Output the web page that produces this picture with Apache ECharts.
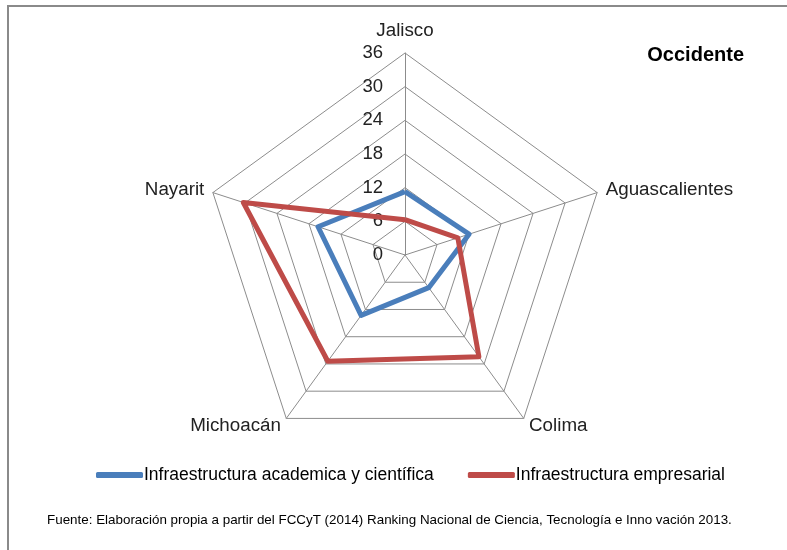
<!DOCTYPE html>
<html>
<head>
<meta charset="utf-8">
<script src="https://cdn.jsdelivr.net/npm/echarts@6/dist/echarts.min.js"></script>
<style>
  html, body { margin: 0; padding: 0; background: #fff; }
  #chart { width: 787px; height: 550px; }
</style>
</head>
<body>
<div id="chart"></div>
<script>
  // estados en el orden de Excel (sentido horario desde arriba)
  var estados = ['Jalisco', 'Aguascalientes', 'Colima', 'Michoacán', 'Nayarit'];
  var academica = [11.3, 12, 7.2, 13.3, 16.3];
  var empresarial = [6.3, 9.9, 22.4, 23.4, 30.3];
  var ticks = [0, 6, 12, 18, 24, 30, 36];
  var serieNames = ['Infraestructura academica y científica', 'Infraestructura empresarial'];
  var fuente = 'Fuente: Elaboración propia a partir del FCCyT (2014) Ranking Nacional de Ciencia, Tecnología e Inno vación 2013.';

  var maxVal = ticks[ticks.length - 1];
  var font = 'Liberation Sans';

  // echarts pinta el radar en sentido antihorario: reordenar
  function ccw(arr) {
    return [arr[0]].concat(arr.slice(1).reverse());
  }

  var option = {
    animation: false,
    title: [
      {
        text: 'Occidente',
        right: 38, top: 40,
        textStyle: {fontFamily: font, fontSize: 20, fontWeight: 'bold', color: '#000'}
      },
      {
        text: fuente,
        left: 42, top: 509,
        textStyle: {fontFamily: font, fontSize: 13.4, fontWeight: 'normal', color: '#000'}
      }
    ],
    graphic: [{
      type: 'rect',
      shape: {x: 8, y: 6, width: 820, height: 600},
      style: {fill: 'none', stroke: '#8a8a8a', lineWidth: 2},
      silent: true
    }],
    legend: {
      left: 91, top: 461,
      itemWidth: 47, itemHeight: 6,
      itemGap: 34,
      icon: 'roundRect',
      data: serieNames,
      textStyle: {fontFamily: font, fontSize: 17.5, color: '#000', padding: [0, 0, 0, -4]}
    },
    radar: {
      center: [405, 255],
      radius: 202,
      startAngle: 90,
      shape: 'polygon',
      splitNumber: ticks.length - 1,
      nameGap: 9,
      axisName: {fontFamily: font, fontSize: 18.8, color: '#222', padding: [2, 0, 4, 0]},
      indicator: ccw(estados).map(function (n) { return {name: n, min: 0, max: maxVal}; }),
      axisLine: {lineStyle: {color: '#8c8c8c', width: 1}},
      splitLine: {lineStyle: {color: '#8c8c8c', width: 1}},
      splitArea: {show: false},
      axisLabel: {show: false},
      axisTick: {show: false}
    },
    // eje auxiliar solo para las etiquetas 0..36 sobre el eje de Jalisco
    grid: {left: 405, top: 53, width: 1, height: 202, z: 0},
    xAxis: {type: 'value', show: false},
    yAxis: {
      type: 'value',
      z: 0,
      min: ticks[0], max: maxVal, interval: ticks[1] - ticks[0],
      axisLine: {show: false},
      axisTick: {show: false},
      splitLine: {show: false},
      axisLabel: {fontFamily: font, fontSize: 18.5, color: '#222', margin: 22}
    },
    series: [
      {
        type: 'radar',
        symbol: 'none',
        z: 5,
        data: [
          {
            name: serieNames[0],
            value: ccw(academica),
            lineStyle: {color: '#4A7EBB', width: 5},
            itemStyle: {color: '#4A7EBB'}
          },
          {
            name: serieNames[1],
            value: ccw(empresarial),
            lineStyle: {color: '#BE4B48', width: 5},
            itemStyle: {color: '#BE4B48'}
          }
        ]
      },
      {type: 'line', data: [], silent: true}
    ]
  };

  echarts.init(document.getElementById('chart')).setOption(option);
</script>
</body>
</html>
